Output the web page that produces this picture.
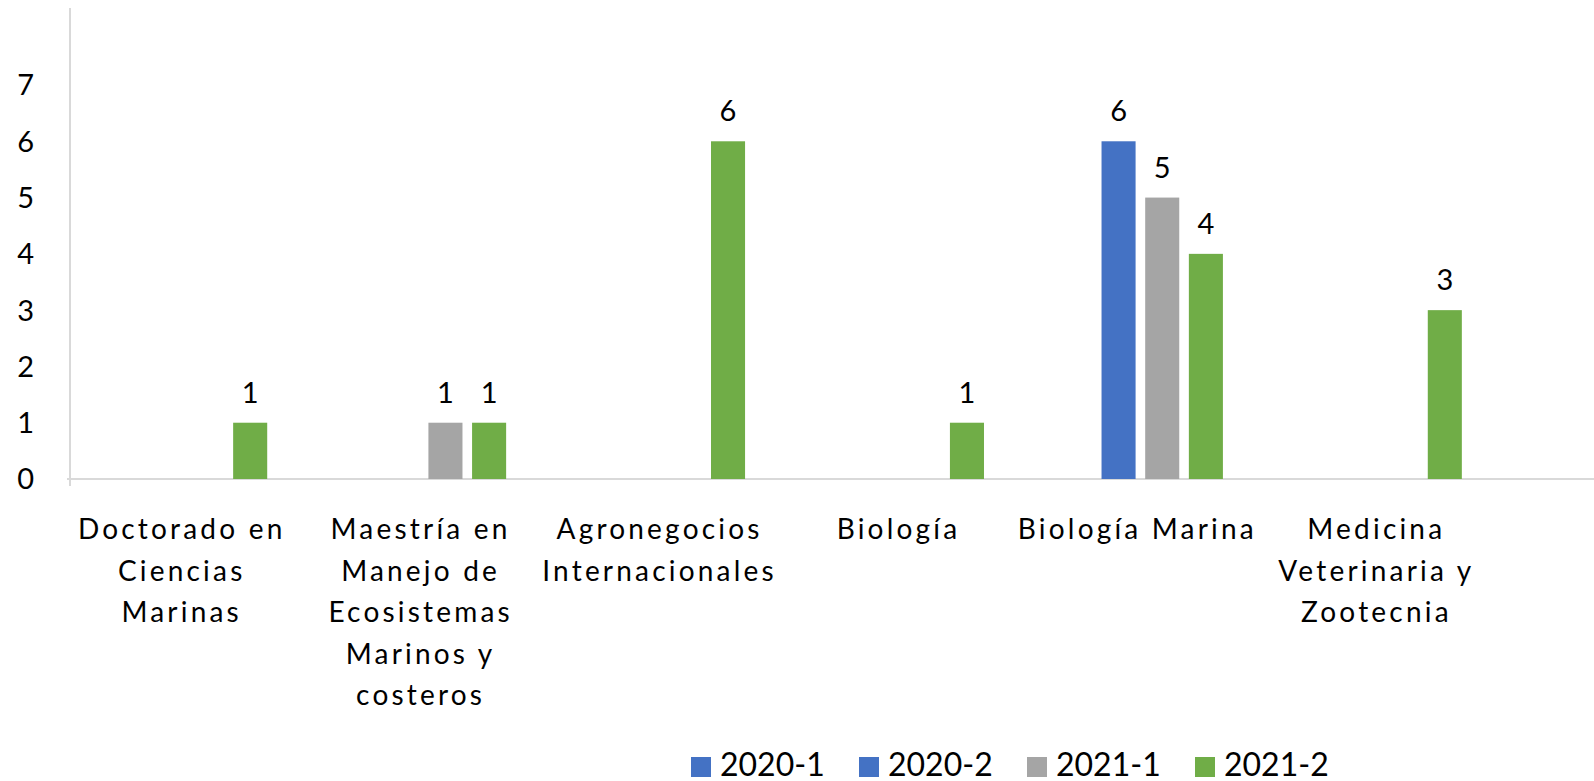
<!DOCTYPE html>
<html>
<head>
<meta charset="utf-8">
<script src="https://cdn.jsdelivr.net/npm/d3@7"></script>
<style>
  body { margin: 0; background: #fff; }
  #chart text { font-family: Lato, "Open Sans", sans-serif; fill: #000; }
</style>
</head>
<body>
<div id="chart"></div>
<script>
// categories (each one already split into the wrapped lines)
const categories = [
  ["Doctorado en", "Ciencias", "Marinas"],
  ["Maestría en", "Manejo de", "Ecosistemas", "Marinos y", "costeros"],
  ["Agronegocios", "Internacionales"],
  ["Biología"],
  ["Biología Marina"],
  ["Medicina", "Veterinaria y", "Zootecnia"]
];
const seriesNames = ["2020-1", "2020-2", "2021-1", "2021-2"];
const values20201 = [null, null, null, null, null, null];
const values20202 = [null, null, null, null, 6, null];
const values20211 = [null, 1, null, null, 5, null];
const values20212 = [1, 1, 6, 1, 4, 3];
const yTicks = [0, 1, 2, 3, 4, 5, 6, 7];
const colors = ["#4472C4", "#4472C4", "#A5A5A5", "#70AD47"];

const allValues = [values20201, values20202, values20211, values20212];
const catKeys = categories.map(function (c) { return c.join(" "); });

const width = 1594,
  height = 781;
const margin = { top: 8, right: 100, bottom: 301, left: 70 };

const svg = d3
  .select("#chart")
  .append("svg")
  .attr("width", width)
  .attr("height", height);

// x scales
const x0 = d3
  .scaleBand()
  .domain(catKeys)
  .range([margin.left, width - margin.right])
  .paddingInner(0.28)
  .paddingOuter(0.12);

const x1 = d3
  .scaleBand()
  .domain(seriesNames)
  .range([0, x0.bandwidth()])
  .paddingInner(0.22)
  .paddingOuter(0.08);

// y scale
const y = d3
  .scaleLinear()
  .domain([0, 7])
  .range([height - margin.bottom - 1, 85]);

// axis lines
svg
  .append("line")
  .attr("x1", margin.left)
  .attr("x2", margin.left)
  .attr("y1", margin.top)
  .attr("y2", y(0) + 7)
  .attr("stroke", "#d9d9d9")
  .attr("stroke-width", 2);

svg
  .append("line")
  .attr("x1", margin.left - 3)
  .attr("x2", width)
  .attr("y1", y(0))
  .attr("y2", y(0))
  .attr("stroke", "#d9d9d9")
  .attr("stroke-width", 2);

// y tick labels
svg
  .append("g")
  .selectAll("text")
  .data(yTicks)
  .enter()
  .append("text")
  .attr("x", 34)
  .attr("y", function (d) { return y(d); })
  .attr("dy", "0.36em")
  .attr("text-anchor", "end")
  .style("font-size", "29px")
  .text(function (d) { return d; });

// bars
const rows = [];
allValues.forEach(function (vals, s) {
  vals.forEach(function (v, i) {
    if (v !== null) rows.push({ cat: catKeys[i], series: seriesNames[s], value: v, color: colors[s] });
  });
});

svg
  .append("g")
  .selectAll("rect")
  .data(rows)
  .enter()
  .append("rect")
  .attr("x", function (d) { return x0(d.cat) + x1(d.series); })
  .attr("y", function (d) { return y(d.value); })
  .attr("width", x1.bandwidth())
  .attr("height", function (d) { return y(0) - y(d.value); })
  .attr("fill", function (d) { return d.color; });

// data labels
svg
  .append("g")
  .selectAll("text")
  .data(rows)
  .enter()
  .append("text")
  .attr("x", function (d) { return x0(d.cat) + x1(d.series) + x1.bandwidth() / 2; })
  .attr("y", function (d) { return y(d.value) - 20; })
  .attr("text-anchor", "middle")
  .style("font-size", "29px")
  .text(function (d) { return d.value; });

// category labels
const catLabels = svg
  .append("g")
  .selectAll("text")
  .data(categories)
  .enter()
  .append("text")
  .attr("text-anchor", "middle")
  .style("font-size", "28px")
  .style("letter-spacing", "3.2px")
  .attr("transform", function (d, i) {
    return "translate(" + (x0(catKeys[i]) + x0.bandwidth() / 2 - 3) + "," + (y(0) + 60) + ")";
  });

catLabels
  .selectAll("tspan")
  .data(function (d) { return d; })
  .enter()
  .append("tspan")
  .attr("x", 0)
  .attr("y", function (d, i) { return i * 41.5; })
  .text(function (d) { return d; });

// legend
const legend = svg
  .append("g")
  .selectAll("g")
  .data(seriesNames)
  .enter()
  .append("g")
  .attr("transform", function (d, i) { return "translate(" + (691 + i * 168) + ",757)"; });

legend
  .append("rect")
  .attr("width", 20)
  .attr("height", 20)
  .attr("fill", function (d, i) { return colors[i]; });

legend
  .append("text")
  .attr("x", 29)
  .attr("y", 19)
  .style("font-size", "32px")
  .text(function (d) { return d; });
</script>
</body>
</html>
